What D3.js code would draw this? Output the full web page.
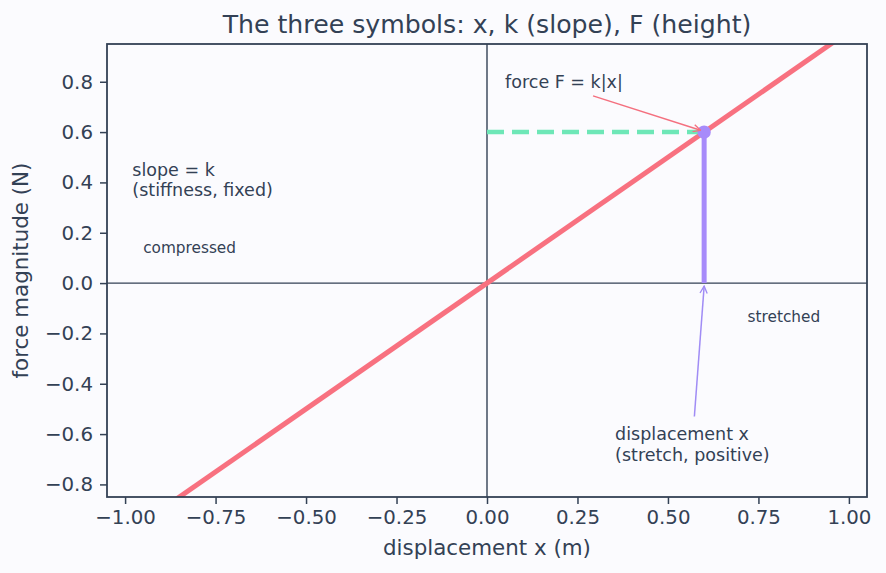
<!DOCTYPE html>
<html>
<head>
<meta charset="utf-8">
<script src="https://cdn.jsdelivr.net/npm/d3@7"></script>
<style>
  body { margin: 0; background: #fbfbfe; }
  svg text { font-family: "DejaVu Sans", sans-serif; fill: #334155; }
</style>
</head>
<body>
<div id="chart"></div>
<script>
// spring: F = k x with k = 1
const stiffness = 1;
const lineX = [-1.05, 1.05];
const pointX = 0.6;
const xTicks = [-1, -0.75, -0.5, -0.25, 0, 0.25, 0.5, 0.75, 1];
const yTicks = [-0.8, -0.6, -0.4, -0.2, 0, 0.2, 0.4, 0.6, 0.8];
const labels = [
  { text: ["slope = k", "(stiffness, fixed)"], x: -0.98, y: 0.426, size: 17.5 },
  { text: ["compressed"], x: -0.95, y: 0.12, size: 15.3 },
  { text: ["stretched"], x: 0.72, y: -0.153, size: 15.3 },
];
const arrows = [
  { text: ["force F = k|x|"], tx: 0.05, ty: 0.775, from: [0.293, 0.744], to: [0.59, 0.607], color: "#f4707f" },
  { text: ["displacement x", "(stretch, positive)"], tx: 0.354, ty: -0.623, from: [0.573, -0.53], to: [0.6, -0.012], color: "#a08cf5" }
];

const width = 886, height = 573;
const margin = { top: 44, right: 19, bottom: 76, left: 107 };
const innerW = width - margin.left - margin.right;
const innerH = height - margin.top - margin.bottom;

const svg = d3.select("#chart").append("svg")
  .attr("width", width).attr("height", height);

svg.append("defs").selectAll("marker")
  .data(arrows).join("marker")
  .attr("id", (d, i) => "arr" + i)
  .attr("viewBox", "0 0 10 10").attr("refX", 9).attr("refY", 5)
  .attr("markerWidth", 9).attr("markerHeight", 9)
  .attr("markerUnits", "userSpaceOnUse")
  .attr("orient", "auto")
  .append("path").attr("d", "M1,1 L9,5 L1,9")
  .attr("fill", "none").attr("stroke", d => d.color).attr("stroke-width", 1.5);

svg.append("defs").append("clipPath").attr("id", "clip")
  .append("rect").attr("width", innerW).attr("height", innerH);

const x = d3.scaleLinear().domain([-1.05, 1.05]).range([0, innerW]);
const y = d3.scaleLinear().domain([-0.85, 0.95]).range([innerH, 0]);

const g = svg.append("g").attr("transform", `translate(${margin.left},${margin.top})`);

const fmtMinus = f => v => f(v).replace("-", "\u2212");

const xAxis = g.append("g").attr("transform", `translate(0,${innerH})`)
  .call(d3.axisBottom(x).tickValues(xTicks).tickFormat(fmtMinus(d3.format(".2f"))).tickSize(7).tickPadding(6));
const yAxis = g.append("g")
  .call(d3.axisLeft(y).tickValues(yTicks).tickFormat(fmtMinus(d3.format(".1f"))).tickSize(7).tickPadding(7));
[xAxis, yAxis].forEach(a => {
  a.select(".domain").remove();
  a.selectAll("line").attr("stroke", "#334155").attr("stroke-width", 1.5);
  a.selectAll("text").style("font-size", "19.8px").attr("fill", "#334155");
});

const plot = g.append("g").attr("clip-path", "url(#clip)");

// zero lines
plot.append("line").attr("x1", 0).attr("x2", innerW).attr("y1", y(0)).attr("y2", y(0))
  .attr("stroke", "#334155").attr("stroke-width", 1.4);
plot.append("line").attr("x1", x(0)).attr("x2", x(0)).attr("y1", 0).attr("y2", innerH)
  .attr("stroke", "#334155").attr("stroke-width", 1.4);

// F = kx line
plot.append("path")
  .datum(lineX)
  .attr("d", d3.line().x(d => x(d)).y(d => y(stiffness * d)))
  .attr("stroke", "#f87180").attr("stroke-width", 5).attr("fill", "none");

const F = stiffness * pointX;
plot.append("line").attr("x1", x(0)).attr("x2", x(pointX)).attr("y1", y(F)).attr("y2", y(F))
  .attr("stroke", "#6ee7b7").attr("stroke-width", 4.5).attr("stroke-dasharray", "17 8");
plot.append("line").attr("x1", x(pointX)).attr("x2", x(pointX)).attr("y1", y(0)).attr("y2", y(F))
  .attr("stroke", "#a78bfa").attr("stroke-width", 5);
plot.append("circle").attr("cx", x(pointX)).attr("cy", y(F)).attr("r", 6.7).attr("fill", "#a78bfa");

// frame
g.append("rect").attr("width", innerW).attr("height", innerH)
  .attr("fill", "none").attr("stroke", "#334155").attr("stroke-width", 1.8);

// text labels (y = first baseline)
labels.forEach(l => {
  const t = g.append("text").attr("x", x(l.x)).attr("y", y(l.y)).style("font-size", l.size + "px");
  l.text.forEach((s, i) => t.append("tspan").attr("x", x(l.x)).attr("dy", i ? "1.13em" : 0).text(s));
});

arrows.forEach((a, i) => {
  g.append("line")
    .attr("x1", x(a.from[0])).attr("y1", y(a.from[1]))
    .attr("x2", x(a.to[0])).attr("y2", y(a.to[1]))
    .attr("stroke", a.color).attr("stroke-width", 1.5)
    .attr("marker-end", `url(#arr${i})`);
  const t = g.append("text").attr("x", x(a.tx)).attr("y", y(a.ty)).style("font-size", "17.5px");
  a.text.forEach((s, j) => t.append("tspan").attr("x", x(a.tx)).attr("dy", j ? "1.2em" : 0).text(s));
});

// titles
svg.append("text").attr("x", margin.left + innerW / 2).attr("y", 33)
  .attr("text-anchor", "middle")
  .style("font-size", "25.2px").text("The three symbols: x, k (slope), F (height)");
svg.append("text").attr("x", margin.left + innerW / 2).attr("y", 555)
  .attr("text-anchor", "middle")
  .style("font-size", "21.4px").text("displacement x (m)");
svg.append("text").attr("transform", `translate(28,${margin.top + innerH / 2}) rotate(-90)`)
  .attr("text-anchor", "middle")
  .style("font-size", "21.4px").text("force magnitude (N)");
</script>
</body>
</html>
